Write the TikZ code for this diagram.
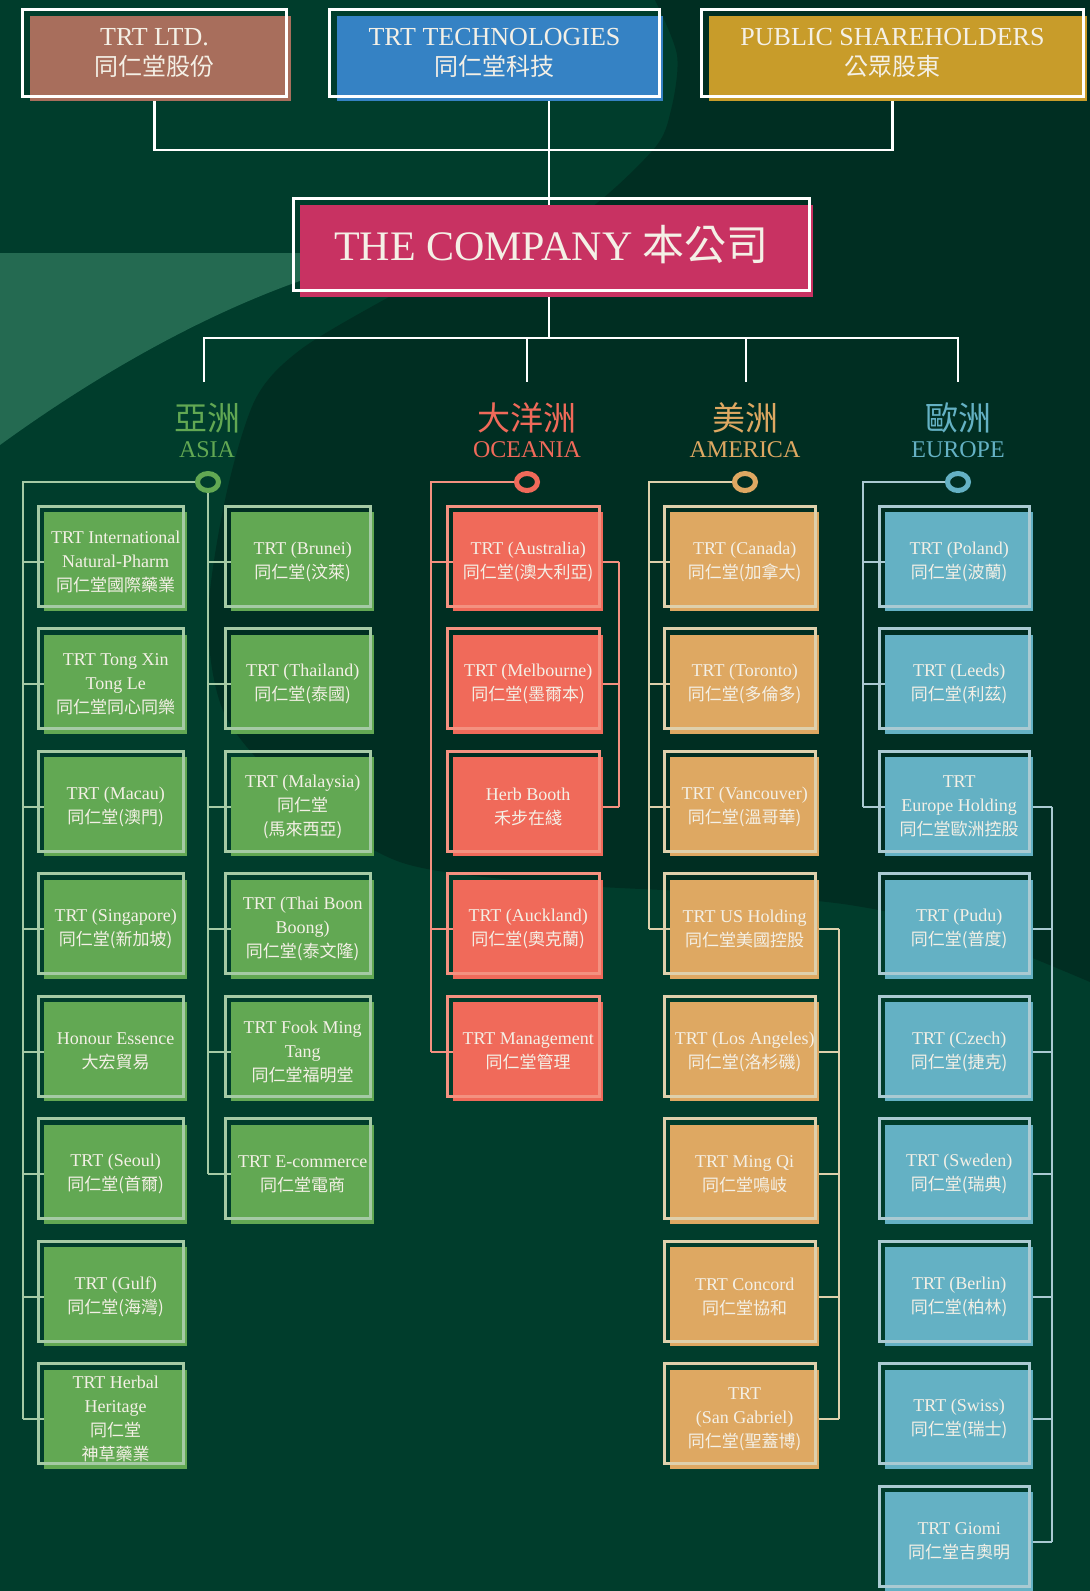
\documentclass[tikz,border=0pt]{standalone}
\usepackage{fontspec}
\setmainfont{Liberation Serif}
\newfontfamily\cjk{Noto Sans CJK TC}
\usetikzlibrary{shapes.geometric}
\newcommand{\zh}[1]{{\cjk\fontsize{17}{24}\selectfont #1}}
\definecolor{bgmid}{RGB}{0,61,44}
\definecolor{bgdark}{RGB}{0,46,34}
\definecolor{bglight}{RGB}{36,106,81}
\definecolor{ltdcol}{RGB}{168,110,92}
\definecolor{techcol}{RGB}{53,130,196}
\definecolor{pubcol}{RGB}{200,156,42}
\definecolor{compcol}{RGB}{200,50,98}
\definecolor{asiacol}{RGB}{98,168,83}
\definecolor{asialine}{RGB}{165,202,165}
\definecolor{ocecol}{RGB}{240,106,90}
\definecolor{oceline}{RGB}{244,145,128}
\definecolor{amecol}{RGB}{222,168,98}
\definecolor{ameline}{RGB}{222,208,172}
\definecolor{eurcol}{RGB}{100,177,196}
\definecolor{eurline}{RGB}{170,202,210}
\definecolor{boxtext}{RGB}{244,240,230}

\begin{document}
\begin{tikzpicture}[x=1pt,y=-1pt,
  unit/.style={inner sep=0pt,anchor=north west,minimum height=99,text=boxtext,align=center,font=\fontsize{18}{24}\selectfont},
  frame/.style={line width=3pt},
  link/.style={line width=2pt},
  topline/.style={draw=white,line width=2.5pt},
  topbox/.style={inner sep=0pt,anchor=north west,minimum height=85},
  topframe/.style={draw=white,line width=3pt,inner sep=0pt,anchor=north west,minimum height=87,text=boxtext,align=center,font=\fontsize{26}{30}\selectfont},
  ring/.style={ellipse,inner sep=0pt,minimum width=21,minimum height=17,line width=5pt},
  headzh/.style={font=\cjk\fontsize{33}{36}\selectfont},
  headen/.style={font=\fontsize{24}{28}\selectfont}]

% background
\fill[bgmid] (0,0) rectangle (1090,1591);
\fill[bgdark] plot[smooth] coordinates {(655,0) (677,55) (671,110) (653,150) (577,217) (470,255) (389,297) (300,350) (255,400) (225,500) (208,620) (225,715) (290,790) (400,862) (560,884) (720,893) (850,905) (960,930) (1090,982)} -- (1090,0) -- cycle;
\fill[bglight] (0,253) -- (340,253) -- (340,268) .. controls (230,300) and (110,365) .. (0,445) -- cycle;
\useasboundingbox (0,0) rectangle (1090,1591);

% shareholders
\node[topbox,fill=ltdcol,minimum width=261] (ltd) at (30,16) {};
\node[topframe,minimum width=264] (ltdF) at (21,8) {TRT LTD.\\{\cjk\fontsize{24}{30}\selectfont 同仁堂股份}};
\node[topbox,fill=techcol,minimum width=326] (tech) at (337,16) {};
\node[topframe,minimum width=330] (techF) at (328,8) {TRT TECHNOLOGIES\\{\cjk\fontsize{24}{30}\selectfont 同仁堂科技}};
\node[topbox,fill=pubcol,minimum width=378] (pub) at (709,16) {};
\node[topframe,minimum width=382] (pubF) at (700,8) {PUBLIC SHAREHOLDERS\\{\cjk\fontsize{24}{30}\selectfont 公眾股東}};

% the company
\node[topbox,fill=compcol,minimum width=513,minimum height=92] (company) at (300,205) {};
\node[topframe,minimum width=516,minimum height=92,font=\fontsize{42}{46}\selectfont] (companyF) at (292,197) {THE COMPANY {\cjk 本公司}};

\coordinate (bar) at (549,150);
\draw[topline] (ltdF.south |- ltd.south) |- (bar) -| (pubF.south |- pub.south);
\draw[topline] (bar |- tech.south) -- (bar |- company.north);
\coordinate (hub) at (549,338);
\coordinate (asiaT) at (204,382);
\coordinate (oceT) at (527,382);
\coordinate (ameT) at (746,382);
\coordinate (eurT) at (958,382);
\draw[topline] (hub |- company.south) -- (hub);
\draw[topline] (asiaT) |- (hub) -| (eurT);
\draw[topline] (oceT |- hub) -- (oceT);
\draw[topline] (ameT |- hub) -- (ameT);

% region heads
\node[headzh,text=asiacol] (asiazh) at (207,418) {亞洲};
\node[headen,text=asiacol] (asiaen) at (207,450) {ASIA};
\node[ring,draw=asiacol] (asiadot) at (208,482) {};
\node[headzh,text=ocecol] (ocezh) at (527,418) {大洋洲};
\node[headen,text=ocecol] (oceen) at (527,450) {OCEANIA};
\node[ring,draw=ocecol] (ocedot) at (527,482) {};
\node[headzh,text=amecol] (amezh) at (745,418) {美洲};
\node[headen,text=amecol] (ameen) at (745,450) {AMERICA};
\node[ring,draw=amecol] (amedot) at (745,482) {};
\node[headzh,text=eurcol] (eurzh) at (958,418) {歐洲};
\node[headen,text=eurcol] (euren) at (958,450) {EUROPE};
\node[ring,draw=eurcol] (eurdot) at (958,482) {};

\coordinate (asiaLs) at (23,482);
\coordinate (oceLs) at (431,482);
\coordinate (ameLs) at (649,482);
\coordinate (eurLs) at (863,482);
\coordinate (oceRs) at (619,482);
\coordinate (ameRs) at (839,482);
\coordinate (eurRs) at (1052,482);

% asia
\foreach \i/\txt in {1/{TRT International\\Natural-Pharm\\\zh{同仁堂國際藥業}},
  2/{TRT Tong Xin\\Tong Le\\\zh{同仁堂同心同樂}}, 3/{TRT (Macau)\\\zh{同仁堂(澳門)}},
  4/{TRT (Singapore)\\\zh{同仁堂(新加坡)}}, 5/{Honour Essence\\\zh{大宏貿易}},
  6/{TRT (Seoul)\\\zh{同仁堂(首爾)}}, 7/{TRT (Gulf)\\\zh{同仁堂(海灣)}},
  8/{TRT Herbal\\Heritage\\\zh{同仁堂}\\\zh{神草藥業}}}
{
  \node[unit,fill=asiacol,minimum width=143] (asiaL\i) at (44,{512+122.5*(\i-1)}) {\txt};
  \draw[frame,draw=asialine] ([shift={(-6,-6)}]asiaL\i.north west) rectangle ([shift={(-4,-5)}]asiaL\i.south east);
  \draw[link,draw=asialine] (asiaL\i.west) -- (asiaL\i.west -| asiaLs);
}
\foreach \i/\txt in {1/{TRT (Brunei)\\\zh{同仁堂(汶萊)}}, 2/{TRT (Thailand)\\\zh{同仁堂(泰國)}},
  3/{TRT (Malaysia)\\\zh{同仁堂}\\\zh{(馬來西亞)}}, 4/{TRT (Thai Boon\\Boong)\\\zh{同仁堂(泰文隆)}},
  5/{TRT Fook Ming\\Tang\\\zh{同仁堂福明堂}}, 6/{TRT E-commerce\\\zh{同仁堂電商}}}
{
  \node[unit,fill=asiacol,minimum width=143] (asiaR\i) at (231,{512+122.5*(\i-1)}) {\txt};
  \draw[frame,draw=asialine] ([shift={(-6,-6)}]asiaR\i.north west) rectangle ([shift={(-4,-5)}]asiaR\i.south east);
  \draw[link,draw=asialine] (asiaR\i.west) -- (asiaR\i.west -| asiadot);
}
\draw[link,draw=asialine] (asiadot.west) -- (asiaLs) -- (asiaLs |- asiaL8.west);
\draw[link,draw=asialine] (asiadot.south) -- (asiadot.south |- asiaR6.west);

% oceania
\foreach \i/\txt in {1/{TRT (Australia)\\\zh{同仁堂(澳大利亞)}}, 2/{TRT (Melbourne)\\\zh{同仁堂(墨爾本)}},
  3/{Herb Booth\\\zh{禾步在綫}}, 4/{TRT (Auckland)\\\zh{同仁堂(奧克蘭)}},
  5/{TRT Management\\\zh{同仁堂管理}}}
{
  \node[unit,fill=ocecol,minimum width=150] (oce\i) at (453,{512+122.5*(\i-1)}) {\txt};
  \draw[frame,draw=oceline] ([shift={(-6,-6)}]oce\i.north west) rectangle ([shift={(-4,-5)}]oce\i.south east);
}
\foreach \i in {1,4,5} \draw[link,draw=oceline] (oce\i.west) -- (oce\i.west -| oceLs);
\foreach \i in {1,2,3} \draw[link,draw=oceline] (oce\i.east) -- (oce\i.east -| oceRs);
\draw[link,draw=oceline] (ocedot.west) -- (oceLs) -- (oceLs |- oce5.west);
\draw[link,draw=oceline] (oce1.east -| oceRs) -- (oce3.east -| oceRs);

% america
\foreach \i/\txt in {1/{TRT (Canada)\\\zh{同仁堂(加拿大)}}, 2/{TRT (Toronto)\\\zh{同仁堂(多倫多)}},
  3/{TRT (Vancouver)\\\zh{同仁堂(溫哥華)}}, 4/{TRT US Holding\\\zh{同仁堂美國控股}},
  5/{TRT (Los Angeles)\\\zh{同仁堂(洛杉磯)}}, 6/{TRT Ming Qi\\\zh{同仁堂鳴岐}},
  7/{TRT Concord\\\zh{同仁堂協和}}, 8/{TRT\\(San Gabriel)\\\zh{同仁堂(聖蓋博)}}}
{
  \node[unit,fill=amecol,minimum width=149] (ame\i) at (670,{512+122.5*(\i-1)}) {\txt};
  \draw[frame,draw=ameline] ([shift={(-6,-6)}]ame\i.north west) rectangle ([shift={(-4,-5)}]ame\i.south east);
}
\foreach \i in {1,...,4} \draw[link,draw=ameline] (ame\i.west) -- (ame\i.west -| ameLs);
\foreach \i in {4,...,8} \draw[link,draw=ameline] (ame\i.east) -- (ame\i.east -| ameRs);
\draw[link,draw=ameline] (amedot.west) -- (ameLs) -- (ameLs |- ame4.west);
\draw[link,draw=ameline] (ame4.east -| ameRs) -- (ame8.east -| ameRs);

% europe
\foreach \i/\txt in {1/{TRT (Poland)\\\zh{同仁堂(波蘭)}}, 2/{TRT (Leeds)\\\zh{同仁堂(利茲)}},
  3/{TRT\\Europe Holding\\\zh{同仁堂歐洲控股}}, 4/{TRT (Pudu)\\\zh{同仁堂(普度)}},
  5/{TRT (Czech)\\\zh{同仁堂(捷克)}}, 6/{TRT (Sweden)\\\zh{同仁堂(瑞典)}},
  7/{TRT (Berlin)\\\zh{同仁堂(柏林)}}, 8/{TRT (Swiss)\\\zh{同仁堂(瑞士)}},
  9/{TRT Giomi\\\zh{同仁堂吉奧明}}}
{
  \node[unit,fill=eurcol,minimum width=148] (eur\i) at (885,{512+122.5*(\i-1)}) {\txt};
  \draw[frame,draw=eurline] ([shift={(-6,-6)}]eur\i.north west) rectangle ([shift={(-4,-5)}]eur\i.south east);
}
\foreach \i in {1,2,3} \draw[link,draw=eurline] (eur\i.west) -- (eur\i.west -| eurLs);
\foreach \i in {3,...,9} \draw[link,draw=eurline] (eur\i.east) -- (eur\i.east -| eurRs);
\draw[link,draw=eurline] (eurdot.west) -- (eurLs) -- (eurLs |- eur3.west);
\draw[link,draw=eurline] (eur3.east -| eurRs) -- (eur9.east -| eurRs);
\end{tikzpicture}
\end{document}
